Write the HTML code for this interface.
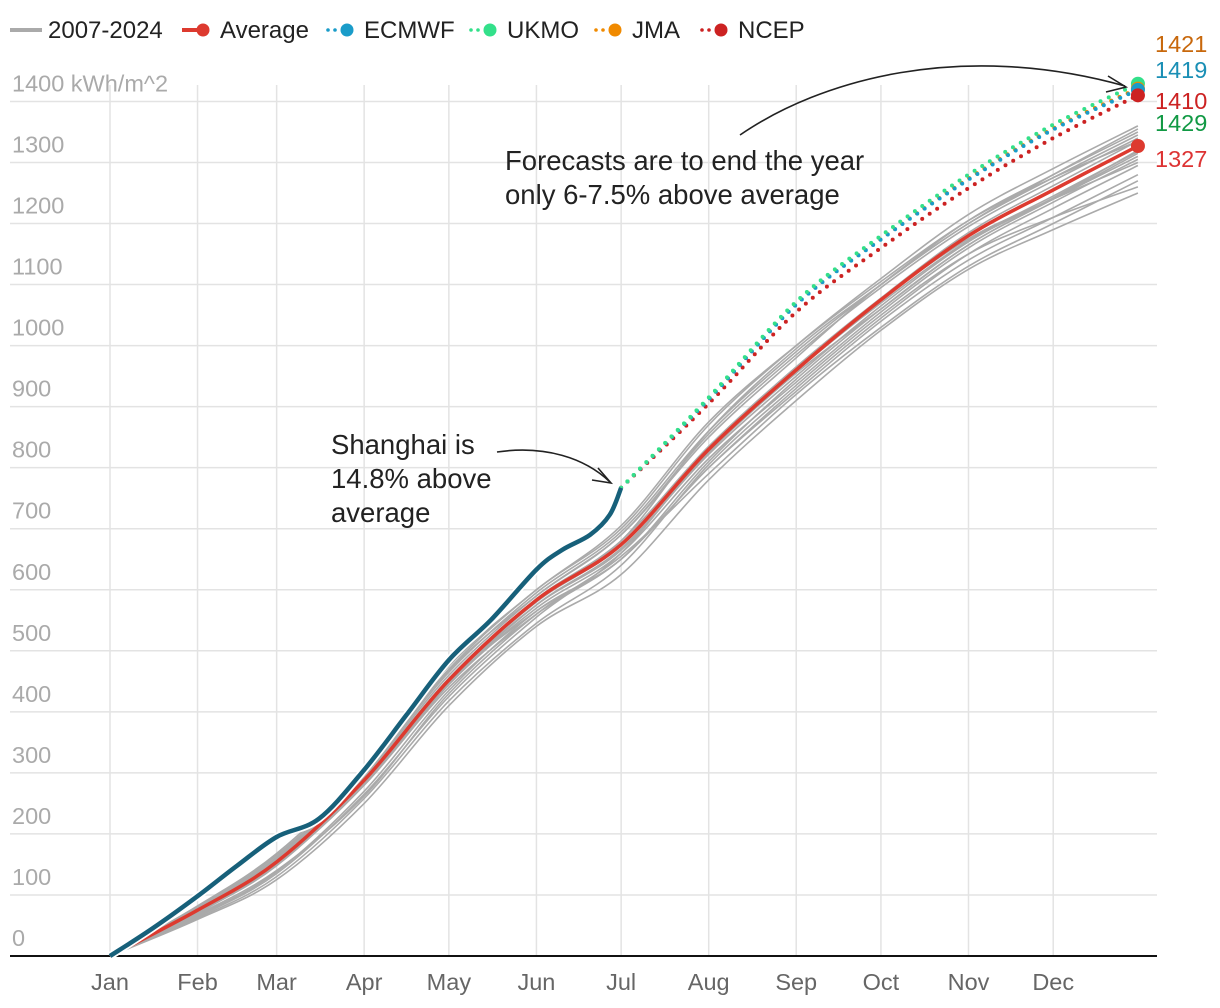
<!DOCTYPE html>
<html><head><meta charset="utf-8">
<style>
html,body{margin:0;padding:0;background:#fff;}
svg{display:block;font-family:"Liberation Sans",Arial,sans-serif;}
</style></head>
<body>
<svg id="chart" width="1220" height="1008" viewBox="0 0 1220 1008" xmlns="http://www.w3.org/2000/svg">
  <g id="legend" font-size="24" fill="#222"></g>
  <g id="grid"></g>
  <g id="yticks" font-size="23.5" fill="#aaa"></g>
  <g id="xticks" font-size="23.5" fill="#666" text-anchor="middle"></g>
  <g id="series"></g>
  <g id="endlabels" font-size="23.5"></g>
  <g fill="#222" font-size="27.5">
    <text x="505" y="170">Forecasts are to end the year</text>
    <text x="505" y="204">only 6-7.5% above average</text>
    <path d="M740,135 C820,80 960,40 1125,86" fill="none" stroke="#222" stroke-width="1.6"/>
    <path d="M1108,76 L1126,87 L1106,92" fill="none" stroke="#222" stroke-width="1.6"/>
    <text x="331" y="454">Shanghai is</text>
    <text x="331" y="488">14.8% above</text>
    <text x="331" y="522">average</text>
    <path d="M497,452 C545,445 585,458 610,482" fill="none" stroke="#222" stroke-width="1.6"/>
    <path d="M598,468 L611,483 L592,480" fill="none" stroke="#222" stroke-width="1.6"/>
  </g>
</svg>
<script>
const NS="http://www.w3.org/2000/svg";
const months=["Jan","Feb","Mar","Apr","May","Jun","Jul","Aug","Sep","Oct","Nov","Dec"];
const monthDays=[0,31,59,90,120,151,181,212,243,273,304,334];
const yTicks=[0,100,200,300,400,500,600,700,800,900,1000,1100,1200,1300,1400];
const days=[0,31,59,90,120,151,181,212,243,273,304,334,364];
const average=[0,75,154,288,452,583,674,830,960,1075,1180,1255,1327];
const shanghaiDays=[0,15,31,45,59,74,90,105,120,135,151,160,170,177,181];
const shanghai=[0,45,98,148,195,225,305,395,485,551,633,665,690,723,767];
const fcDays=[181,212,243,273,304,334,364];
const ecmwf=[767,912,1067,1174,1272,1354,1419];
const ukmo=[767,915,1072,1180,1280,1362,1429];
const jma=[767,912,1068,1175,1274,1356,1421];
const ncep=[767,905,1055,1160,1258,1340,1410];
const y2007=[0,70,150,280,440,560,650,800,930,1045,1150,1225,1295];
const y2008=[0,62,130,258,418,545,640,805,935,1050,1150,1210,1260];
const y2009=[0,78,160,295,460,590,690,850,980,1100,1200,1280,1355];
const y2010=[0,68,140,262,430,560,655,790,920,1030,1130,1200,1270];
const y2011=[0,80,165,300,470,600,700,870,1000,1110,1215,1290,1360];
const y2012=[0,72,150,285,450,575,665,825,955,1060,1165,1240,1310];
const y2013=[0,76,158,292,455,585,680,860,995,1100,1200,1275,1345];
const y2014=[0,66,138,270,435,565,650,800,925,1040,1140,1210,1280];
const y2015=[0,74,152,285,445,570,660,815,940,1055,1160,1235,1305];
const y2016=[0,64,135,265,425,555,660,830,965,1075,1175,1240,1300];
const y2017=[0,79,162,298,465,595,695,860,990,1100,1205,1280,1350];
const y2018=[0,77,158,300,468,590,690,855,985,1095,1195,1270,1340];
const y2019=[0,60,125,250,410,540,625,780,910,1025,1125,1190,1250];
const y2020=[0,73,150,280,448,565,650,810,945,1060,1165,1240,1315];
const y2021=[0,71,148,283,450,580,672,828,958,1070,1172,1245,1318];
const y2022=[0,82,168,305,475,600,705,875,1000,1105,1205,1275,1335];
const y2023=[0,75,155,290,455,585,680,835,965,1078,1185,1262,1335];
const y2024=[0,74,150,282,445,575,668,822,950,1065,1170,1242,1320];
const years=[y2007,y2008,y2009,y2010,y2011,y2012,y2013,y2014,y2015,y2016,y2017,y2018,y2019,y2020,y2021,y2022,y2023,y2024];

const X=d=>110+d*2.824;
const Y=v=>956-v*0.6104;
function mk(tag,attrs,parent){const e=document.createElementNS(NS,tag);for(const k in attrs)e.setAttribute(k,attrs[k]);parent.appendChild(e);return e;}
function smoothPath(ds,vs){
  const p=ds.map((d,i)=>[X(d),Y(vs[i])]);
  let s="M"+p[0][0].toFixed(1)+","+p[0][1].toFixed(1);
  for(let i=0;i<p.length-1;i++){
    const p0=p[i-1]||p[i],p1=p[i],p2=p[i+1],p3=p[i+2]||p2;
    const c1=[p1[0]+(p2[0]-p0[0])/6,p1[1]+(p2[1]-p0[1])/6];
    const c2=[p2[0]-(p3[0]-p1[0])/6,p2[1]-(p3[1]-p1[1])/6];
    s+=" C"+c1[0].toFixed(1)+","+c1[1].toFixed(1)+" "+c2[0].toFixed(1)+","+c2[1].toFixed(1)+" "+p2[0].toFixed(1)+","+p2[1].toFixed(1);
  }
  return s;
}
const grid=document.getElementById('grid');
yTicks.forEach(t=>{
  if(t===0)return;
  const l=mk('line',{x1:10,x2:1157,y1:Y(t),y2:Y(t),stroke:'#e3e3e3','stroke-width':1.5},grid);
  
  
});
monthDays.forEach(d=>{
  const l=mk('line',{x1:X(d),x2:X(d),y1:85,y2:956,stroke:'#e3e3e3','stroke-width':1.5},grid);
  
  
});
const ax=mk('line',{x1:10,x2:1157,y1:956,y2:956,stroke:'#111','stroke-width':2},grid);


const yt=document.getElementById('yticks');
yTicks.forEach(t=>{
  const e=mk('text',{x:12,y:Y(t)-10},yt);
  e.textContent=t===1400?"1400 kWh/m^2":String(t);
  
  
});
const xt=document.getElementById('xticks');
months.forEach((m,i)=>{
  const e=mk('text',{x:X(monthDays[i]),y:990},xt);
  e.textContent=m;
  
  
});
const sg=document.getElementById('series');
years.forEach(arr=>{
  const p=mk('path',{d:smoothPath(days,arr),fill:'none',stroke:'#aaa','stroke-width':1.6},sg);
  
  
});
const avg=mk('path',{d:smoothPath(days,average),fill:'none',stroke:'#dd3a2f','stroke-width':3.5},sg);


const avgDot=mk('circle',{cx:X(364),cy:Y(average[average.length-1]),r:7,fill:'#dd3a2f'},sg);


const fcs=[[ncep,'#cc2222','ncep'],[jma,'#f08a00','jma'],[ecmwf,'#1a9cc9','ecmwf'],[ukmo,'#33e08a','ukmo']];
fcs.forEach(([arr,c,n])=>{
  const p=mk('path',{d:smoothPath(fcDays,arr),fill:'none',stroke:c,'stroke-width':4,'stroke-dasharray':'0 9','stroke-linecap':'round'},sg);
  
  
});
[[ukmo,'#33e08a','ukmo'],[jma,'#f08a00','jma'],[ecmwf,'#1a9cc9','ecmwf'],[ncep,'#cc2222','ncep']].forEach(([arr,c,n])=>{
  const d=mk('circle',{cx:X(364),cy:Y(arr[arr.length-1]),r:7,fill:c},sg);
  
  
});
const sh=mk('path',{d:smoothPath(shanghaiDays,shanghai),fill:'none',stroke:'#fff','stroke-width':8},sg);


const sh2=mk('path',{d:smoothPath(shanghaiDays,shanghai),fill:'none',stroke:'#17607a','stroke-width':4.5},sg);


const el=document.getElementById('endlabels');
[["1421","#c8680c",52],["1419","#1a8fb5",78],["1410","#cc2222",109],["1429","#119944",131],["1327","#dd3333",167]].forEach(([t,c,y])=>{
  const e=mk('text',{x:1155,y:y,fill:c},el);
  e.textContent=t;
  
  
});
const lg=document.getElementById('legend');
const items=[["2007-2024","#aaa","solid",false,10],["Average","#dd3a2f","solid",true,182],["ECMWF","#1a9cc9","dot",true,326],["UKMO","#33e08a","dot",true,469],["JMA","#f08a00","dot",true,594],["NCEP","#cc2222","dot",true,700]];
items.forEach(([t,c,s,dot,x])=>{
  const g=mk('g',{},lg);
  
  
  if(s==="solid")mk('line',{x1:x,x2:x+(dot?18:32),y1:30,y2:30,stroke:c,'stroke-width':4},g);
  else{mk('circle',{cx:x+2,cy:30,r:1.8,fill:c},g);mk('circle',{cx:x+9,cy:30,r:1.8,fill:c},g);}
  if(dot)mk('circle',{cx:x+21,cy:30,r:6.5,fill:c},g);
  const tx=mk('text',{x:x+38,y:38},g);
  tx.textContent=t;
});
</script>
</body></html>
